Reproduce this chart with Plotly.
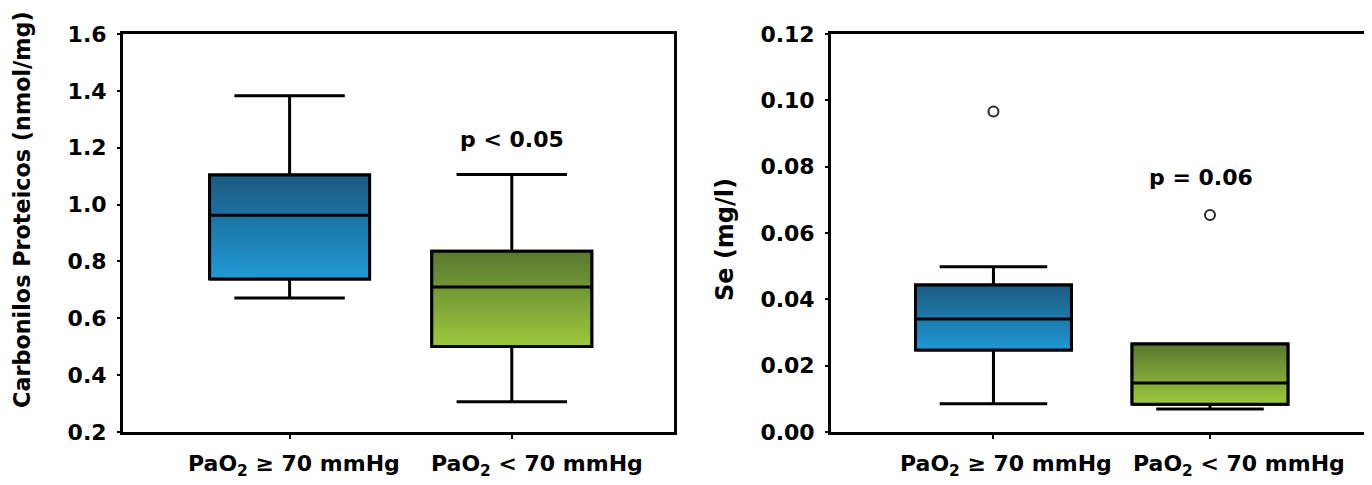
import plotly.graph_objects as go

# ---- data ----
groups = ["PaO<sub>2</sub> ≥ 70 mmHg", "PaO<sub>2</sub> < 70 mmHg"]
group_pos = [0, 1]

# Left panel: Carbonilos Proteicos (nmol/mg)
carb_lower = [0.671, 0.306]
carb_q1 = [0.738, 0.501]
carb_median = [0.962, 0.710]
carb_q3 = [1.104, 0.836]
carb_upper = [1.383, 1.106]

# Right panel: Se (mg/l)
se_lower = [0.0085, 0.0069]
se_q1 = [0.0247, 0.0084]
se_median = [0.0341, 0.0148]
se_q3 = [0.0443, 0.0265]
se_upper = [0.0498, 0.0265]
se_outliers = [[0.0966], [0.0654]]

p_texts = ["p < 0.05", "p = 0.06"]
p_pos = [(1.0, 1.228), (0.96, 0.0767)]

# ---- style ----
FONT = "DejaVu Sans"
box_w = 0.72
grad = [
    [[0, "#1f99d6"], [1, "#1b5a7f"]],   # blue
    [[0, "#9dc83c"], [1, "#58772f"]],   # green
]

fig = go.Figure()

panels = [
    dict(xa="x", ya="y", lo=carb_lower, q1=carb_q1, md=carb_median, q3=carb_q3, up=carb_upper, out=None),
    dict(xa="x2", ya="y2", lo=se_lower, q1=se_q1, md=se_median, q3=se_q3, up=se_upper, out=se_outliers),
]

for p in panels:
    for i, c in enumerate(group_pos):
        # whiskers (box statistics through the library)
        fig.add_trace(go.Box(
            x=[c], q1=[p["q1"][i]], median=[p["md"][i]], q3=[p["q3"][i]],
            lowerfence=[p["lo"][i]], upperfence=[p["up"][i]],
            width=box_w, whiskerwidth=0.69,
            fillcolor="rgba(0,0,0,0)", line=dict(color="black", width=3),
            boxpoints=False, xaxis=p["xa"], yaxis=p["ya"], showlegend=False,
        ))
        # gradient-filled box body with black outline
        fig.add_trace(go.Scatter(
            x=[c - box_w / 2, c + box_w / 2, c + box_w / 2, c - box_w / 2, c - box_w / 2],
            y=[p["q1"][i], p["q1"][i], p["q3"][i], p["q3"][i], p["q1"][i]],
            mode="lines", line=dict(width=3, color="black"), fill="toself",
            fillgradient=dict(type="vertical", colorscale=grad[i]),
            xaxis=p["xa"], yaxis=p["ya"], showlegend=False, hoverinfo="skip",
        ))
        # median line
        fig.add_trace(go.Scatter(
            x=[c - box_w / 2, c + box_w / 2], y=[p["md"][i], p["md"][i]],
            mode="lines", line=dict(width=3, color="black"),
            xaxis=p["xa"], yaxis=p["ya"], showlegend=False, hoverinfo="skip",
        ))
        if p["out"] is not None:
            fig.add_trace(go.Scatter(
                x=[c] * len(p["out"][i]), y=p["out"][i], mode="markers",
                marker=dict(symbol="circle-open", size=10, color="#2a2a2a", line=dict(width=2)),
                xaxis=p["xa"], yaxis=p["ya"], showlegend=False,
            ))

axis_common = dict(
    showline=True, linecolor="black", linewidth=3, mirror=True,
    showgrid=False, zeroline=False, ticks="outside", tickcolor="black",
    tickwidth=1.5, automargin=False,
)
xcommon = dict(axis_common, range=[-0.75, 1.73], tickvals=group_pos,
               ticklen=4, showticklabels=False)
ycommon = dict(axis_common, ticklen=3, ticklabelstandoff=6,
               tickfont=dict(family=FONT, size=22, color="black", weight="bold"))

# page body adds an 8px margin, so the figure is laid out 8px up/left
fig.update_layout(
    width=1372, height=485,
    margin=dict(l=0, r=0, t=0, b=0, autoexpand=False),
    paper_bgcolor="white", plot_bgcolor="white",
    xaxis=dict(xcommon, domain=[0.0838, 0.4854], anchor="y"),
    yaxis=dict(ycommon, domain=[0.1258, 0.9464], anchor="x", range=[0.2, 1.6],
               tickvals=[0.2, 0.4, 0.6, 0.8, 1.0, 1.2, 1.4, 1.6], tickformat=".1f"),
    xaxis2=dict(xcommon, domain=[0.5999, 0.9913], anchor="y2"),
    yaxis2=dict(ycommon, domain=[0.1258, 0.9464], anchor="x2", range=[0, 0.12],
                tickvals=[0, 0.02, 0.04, 0.06, 0.08, 0.10, 0.12], tickformat=".2f"),
    showlegend=False,
)

bold = dict(family=FONT, size=22, color="black", weight="bold")
annos = [
    dict(text="Carbonilos Proteicos (nmol/mg)", xref="paper", yref="paper",
         x=0.0102, y=0.5856, xanchor="center", yanchor="middle",
         textangle=-90, showarrow=False, font=dict(bold, size=22.3)),
    dict(text="Se (mg/l)", xref="paper", yref="paper",
         x=0.5226, y=0.5216, xanchor="center", yanchor="middle",
         textangle=-90, showarrow=False, font=dict(bold, size=24)),
]
# category labels below each panel
label_shift = [[4, 25], [13, 29]]
for k, xa in enumerate(["x", "x2"]):
    for i, c in enumerate(group_pos):
        annos.append(dict(text=groups[i], xref=xa, yref="paper", x=c, y=0.0557,
                          xshift=label_shift[k][i], xanchor="center", yanchor="middle",
                          showarrow=False, font=bold))
for k, (xa, ya) in enumerate([("x", "y"), ("x2", "y2")]):
    annos.append(dict(text=p_texts[k], xref=xa, yref=ya, x=p_pos[k][0], y=p_pos[k][1],
                      xanchor="center", yanchor="middle", showarrow=False, font=bold))
fig.update_layout(annotations=annos)

fig.write_html("out.html")
